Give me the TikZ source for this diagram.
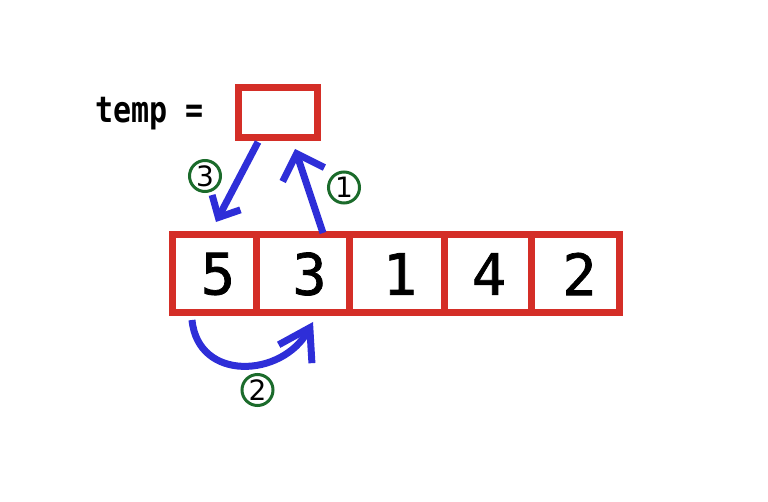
\documentclass[tikz,border=0pt]{standalone}
\usepackage{fontspec}
\setmonofont{DejaVu Sans Mono}
\newfontfamily\digitfont{DejaVu Sans Mono}[FakeBold=1.3]
\newfontfamily\circfont{DejaVu Sans}
\usetikzlibrary{arrows.meta}
\definecolor{boxred}{HTML}{D42E27}
\definecolor{arrblue}{HTML}{2E2ED8}
\definecolor{circgreen}{HTML}{1B6B2B}
\tikzset{
  cell/.style={draw=boxred, line width=7pt, minimum height=78pt, inner sep=0pt,
    font=\fontsize{57}{57}\digitfont},
  tempbox/.style={draw=boxred, line width=7pt, minimum width=79pt, minimum height=50pt, inner sep=0pt},
  movearrow/.style={draw=arrblue, line width=7pt, line cap=butt},
  stepnum/.style={circle, draw=circgreen, line width=3pt, minimum size=31pt, inner sep=0pt,
    font=\fontsize{28}{28}\circfont}
}
\begin{document}
\begin{tikzpicture}[x=1pt,y=-1pt]
\useasboundingbox (0,0) rectangle (768,502);
% array cells
\node[cell, minimum width=84pt] (c1) at (214,274) {\hspace*{8pt}5};
\node[cell, minimum width=93pt] (c2) at (302.5,274) {\hspace*{14pt}3};
\node[cell, minimum width=95pt] (c3) at (396.5,274) {\hspace*{7pt}1};
\node[cell, minimum width=87pt] (c4) at (487.5,274) {\hspace*{3pt}4};
\node[cell, minimum width=88pt] (c5) at (575,274) {\hspace*{9pt}2};
% temp
\node[font=\fontsize{30}{30}\ttfamily\bfseries, anchor=base west, inner sep=0pt] (tl) at (95,123) {\scalebox{1}[1.2]{temp =}};
\node[tempbox] (tb) at (277.5,113) {};
% arrow coordinates
\coordinate (a1s) at (323,233);
\coordinate (a1e) at (295,149);
\coordinate (a3s) at (258,142);
\coordinate (a3e) at (216,222);
\coordinate (a2s) at (192,320);
\coordinate (a2e) at (313,322);
% arrows
\draw[movearrow, -{Straight Barb[length=22pt, width=44pt]}] (a1s) -- (a1e);
\draw[movearrow, -{Straight Barb[length=17pt, width=32pt]}] (a3s) -- (a3e);
\draw[movearrow, -{Straight Barb[length=30pt, width=38pt]}] (a2s) .. controls (198,382) and (282,378) .. (a2e);
% step numbers
\node[stepnum] (n1) at (344,187.5) {1};
\node[stepnum] (n2) at (257.5,390) {2};
\node[stepnum] (n3) at (205,176) {3};
\end{tikzpicture}
\end{document}
